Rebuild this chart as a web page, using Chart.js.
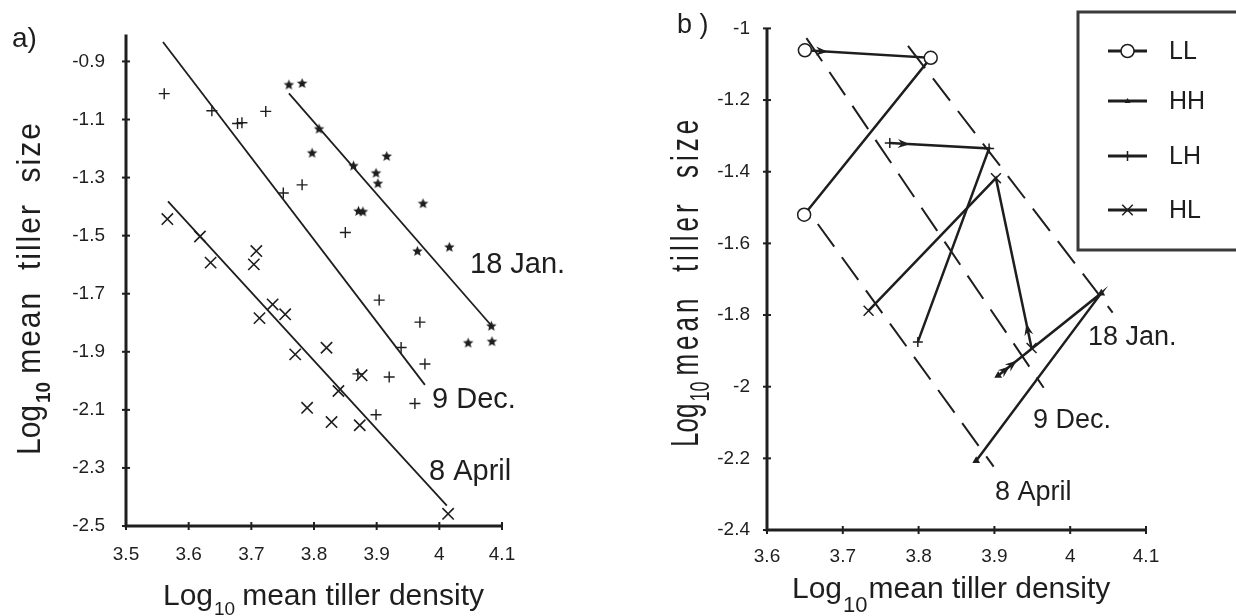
<!DOCTYPE html>
<html>
<head>
<meta charset="utf-8">
<script src="https://cdn.jsdelivr.net/npm/chart.js@4/dist/chart.umd.min.js"></script>
<style>
  body { margin: 0; background: #fff; }
  #wrap { position: relative; width: 1236px; height: 616px; overflow: hidden; }
  #chartA { position: absolute; left: 0; top: 0; }
  #chartB { position: absolute; left: 610px; top: 0; }
</style>
</head>
<body>
<div id="wrap">
  <canvas id="chartA" width="610" height="616"></canvas>
  <canvas id="chartB" width="626" height="616"></canvas>
</div>
<script>
var FONT = "'Liberation Sans', Arial, Helvetica, sans-serif";
var INK = '#1e1e1e';

// a) log10 tiller density / log10 mean tiller size, one pair of arrays per harvest
var janDensity = [3.760, 3.781, 3.808, 3.797, 3.863, 3.916, 3.899, 3.902, 3.871, 3.878, 3.974, 3.965, 4.016, 4.083, 4.046, 4.084];
var janSize    = [-0.981, -0.976, -1.133, -1.216, -1.260, -1.227, -1.285, -1.321, -1.416, -1.418, -1.390, -1.554, -1.540, -1.812, -1.870, -1.865];
var decDensity = [3.561, 3.637, 3.678, 3.685, 3.723, 3.751, 3.781, 3.850, 3.904, 3.969, 3.939, 3.977, 3.920, 3.870, 3.961, 3.899];
var decSize    = [-1.011, -1.070, -1.114, -1.111, -1.072, -1.353, -1.325, -1.489, -1.722, -1.798, -1.885, -1.942, -1.987, -1.976, -2.078, -2.117];
var aprDensity = [3.566, 3.618, 3.635, 3.708, 3.704, 3.734, 3.713, 3.754, 3.770, 3.820, 3.876, 3.839, 3.789, 3.828, 3.873, 4.014];
var aprSize    = [-1.443, -1.503, -1.593, -1.553, -1.599, -1.737, -1.784, -1.771, -1.909, -1.886, -1.981, -2.035, -2.093, -2.142, -2.153, -2.458];

// fitted thinning lines (end points)
var janFitX = [3.760, 4.084], janFitY = [-1.010, -1.812];
var decFitX = [3.559, 3.977], decFitY = [-0.833, -2.014];
var aprFitX = [3.567, 4.012], aprFitY = [-1.382, -2.430];

// b) treatment means at 9 Dec., 18 Jan., 8 April
var llDensity = [3.650, 3.816, 3.649], llSize = [-1.061, -1.082, -1.520];
var hhDensity = [3.905, 4.041, 3.876], hhSize = [-1.969, -1.739, -2.207];
var lhDensity = [3.762, 3.893, 3.799], lhSize = [-1.320, -1.335, -1.875];
var hlDensity = [3.949, 3.902, 3.734], hlSize = [-1.892, -1.418, -1.788];

// dashed lines for each harvest in b)
var janLineX = [3.786, 4.056], janLineY = [-1.049, -1.793];
var decLineX = [3.652, 3.965], decLineY = [-1.027, -2.003];
var aprLineX = [3.667, 3.899], aprLineY = [-1.546, -2.223];

var aDensityTicks = [3.5, 3.6, 3.7, 3.8, 3.9, 4, 4.1];
var aSizeTicks = [-0.9, -1.1, -1.3, -1.5, -1.7, -1.9, -2.1, -2.3, -2.5];
var bDensityTicks = [3.6, 3.7, 3.8, 3.9, 4, 4.1];
var bSizeTicks = [-1, -1.2, -1.4, -1.6, -1.8, -2, -2.2, -2.4];

function pairs(xs, ys) {
  return xs.map(function (x, i) { return { x: x, y: ys[i] }; });
}

// filled five point star used for the 18 Jan. points
function makeStar(r) {
  var c = document.createElement('canvas');
  c.width = c.height = 2 * r + 2;
  var g = c.getContext('2d');
  g.fillStyle = INK;
  g.beginPath();
  for (var k = 0; k < 10; k++) {
    var ang = -Math.PI / 2 + k * Math.PI / 5;
    var rr = k % 2 ? r * 0.45 : r;
    g.lineTo(r + 1 + rr * Math.cos(ang), r + 1 + rr * Math.sin(ang));
  }
  g.closePath();
  g.fill();
  return c;
}

// axis lines with ticks crossing them
var axesPlugin = {
  id: 'axes',
  beforeDatasetsDraw: function (chart) {
    var ctx = chart.ctx, a = chart.chartArea;
    var xs = chart.scales.x, ys = chart.scales.y;
    var o = chart.options.plugins.axes;
    ctx.save();
    ctx.strokeStyle = INK;
    ctx.lineWidth = 3;
    ctx.beginPath();
    ctx.moveTo(a.left, a.top + o.topGap);
    ctx.lineTo(a.left, a.bottom);
    ctx.lineTo(a.right, a.bottom);
    ctx.stroke();
    ctx.lineWidth = 2;
    xs.ticks.forEach(function (t) {
      var px = xs.getPixelForValue(t.value);
      ctx.beginPath(); ctx.moveTo(px, a.bottom - 4); ctx.lineTo(px, a.bottom + 4); ctx.stroke();
    });
    ys.ticks.forEach(function (t) {
      var py = ys.getPixelForValue(t.value);
      ctx.beginPath(); ctx.moveTo(a.left - 4, py); ctx.lineTo(a.left + 4, py); ctx.stroke();
    });
    ctx.restore();
  }
};

// free text: titles with subscripts, harvest dates, panel letters
var textPlugin = {
  id: 'texts',
  afterDraw: function (chart) {
    var ctx = chart.ctx;
    chart.options.plugins.texts.items.forEach(function (it) {
      ctx.save();
      ctx.fillStyle = INK;
      ctx.textBaseline = 'alphabetic';
      ctx.translate(it.x, it.y);
      if (it.rotate) ctx.rotate(-Math.PI / 2);
      if (it.stretch) ctx.scale(1, it.stretch);
      var x = 0;
      it.parts.forEach(function (p) {
        ctx.font = (p.bold ? 'bold ' : '') + p.size + 'px ' + FONT;
        ctx.letterSpacing = (p.spacing || 0) + 'px';
        x += p.dx || 0;
        ctx.fillText(p.text, x, p.dy || 0);
        x += ctx.measureText(p.text).width;
      });
      ctx.restore();
    });
  }
};

// arrow heads on the first step of each treatment path
var arrowPlugin = {
  id: 'arrows',
  afterDatasetsDraw: function (chart) {
    var ctx = chart.ctx;
    ctx.save();
    ctx.fillStyle = INK;
    chart.data.datasets.forEach(function (ds, i) {
      if (!ds.arrows) return;
      var pts = chart.getDatasetMeta(i).data;
      var a = pts[0], b = pts[1];
      var dx = b.x - a.x, dy = b.y - a.y, len = Math.hypot(dx, dy);
      var ux = dx / len, uy = dy / len;
      ds.arrows.forEach(function (d) {
        var tx = a.x + ux * d, ty = a.y + uy * d;
        ctx.beginPath();
        ctx.moveTo(tx, ty);
        ctx.lineTo(tx - ux * 12 - uy * 4.5, ty - uy * 12 + ux * 4.5);
        ctx.lineTo(tx - ux * 8, ty - uy * 8);
        ctx.lineTo(tx - ux * 12 + uy * 4.5, ty - uy * 12 - ux * 4.5);
        ctx.closePath();
        ctx.fill();
      });
    });
    ctx.restore();
  }
};

function drawMarker(ctx, ds, x, y) {
  var r = ds.pointRadius;
  ctx.lineWidth = ds.pointBorderWidth;
  ctx.beginPath();
  if (ds.pointStyle === 'circle') {
    ctx.arc(x, y, r, 0, Math.PI * 2);
    ctx.fillStyle = '#fff'; ctx.fill(); ctx.stroke();
  } else if (ds.pointStyle === 'triangle') {
    ctx.moveTo(x, y - r); ctx.lineTo(x + r, y + r * 0.7); ctx.lineTo(x - r, y + r * 0.7);
    ctx.closePath(); ctx.fillStyle = INK; ctx.fill();
  } else if (ds.pointStyle === 'cross') {
    ctx.moveTo(x, y - r); ctx.lineTo(x, y + r); ctx.moveTo(x - r, y); ctx.lineTo(x + r, y); ctx.stroke();
  } else if (ds.pointStyle === 'crossRot') {
    var q = r * 0.75;
    ctx.moveTo(x - q, y - q); ctx.lineTo(x + q, y + q); ctx.moveTo(x + q, y - q); ctx.lineTo(x - q, y + q); ctx.stroke();
  }
}

var legendPlugin = {
  id: 'boxLegend',
  afterDraw: function (chart) {
    var o = chart.options.plugins.boxLegend;
    var ctx = chart.ctx;
    ctx.save();
    ctx.strokeStyle = '#3a3a3a';
    ctx.lineWidth = 3;
    ctx.strokeRect(o.x, o.y, o.w, o.h);
    ctx.font = o.size + 'px ' + FONT;
    ctx.textBaseline = 'middle';
    o.order.forEach(function (label, k) {
      var ds = chart.data.datasets.find(function (d) { return d.label === label; });
      var y = o.rows[k];
      ctx.strokeStyle = INK;
      ctx.lineWidth = 3;
      ctx.beginPath(); ctx.moveTo(o.lineX[0], y); ctx.lineTo(o.lineX[1], y); ctx.stroke();
      ctx.strokeStyle = INK;
      drawMarker(ctx, ds, (o.lineX[0] + o.lineX[1]) / 2, y);
      ctx.fillStyle = INK;
      ctx.fillText(label, o.textX, y + 1);
    });
    ctx.restore();
  }
};

function fixedTicks(list) {
  return function (axis) { axis.ticks = list.map(function (v) { return { value: v }; }); };
}

function axis(min, max, ticks, size, pad) {
  return {
    type: 'linear', min: min, max: max,
    afterBuildTicks: fixedTicks(ticks),
    afterFit: size,
    grid: { display: false, drawTicks: false },
    border: { display: false },
    ticks: {
      color: INK, padding: pad,
      font: { family: FONT, size: 19 },
      callback: function (v) { return String(v); }
    }
  };
}

function fitLine(xs, ys, dash) {
  return {
    data: pairs(xs, ys), showLine: true, pointRadius: 0,
    borderColor: INK, borderWidth: dash ? 2 : 1.8, borderDash: dash || [], clip: false
  };
}

var starImg = makeStar(5.5);

new Chart(document.getElementById('chartA'), {
  type: 'scatter',
  data: {
    datasets: [
      fitLine(janFitX, janFitY),
      fitLine(decFitX, decFitY),
      fitLine(aprFitX, aprFitY),
      { label: '18 Jan.', data: pairs(janDensity, janSize), pointStyle: starImg, pointRadius: 5, clip: false },
      { label: '9 Dec.', data: pairs(decDensity, decSize), pointStyle: 'cross', pointRadius: 5.5,
        pointBorderWidth: 1.4, borderColor: INK, backgroundColor: INK, clip: false },
      { label: '8 April', data: pairs(aprDensity, aprSize), pointStyle: 'crossRot', pointRadius: 8,
        pointBorderWidth: 1.6, borderColor: INK, backgroundColor: INK, clip: false }
    ]
  },
  options: {
    animation: false, responsive: false, maintainAspectRatio: false,
    layout: { padding: { left: 0, right: 108, top: 15, bottom: 0 } },
    scales: {
      x: axis(3.5, 4.1, aDensityTicks, function (s) { s.height = 90; }, 17),
      y: axis(-2.5, -0.8, aSizeTicks, function (s) { s.width = 126; }, 21)
    },
    plugins: {
      legend: { display: false },
      tooltip: { enabled: false },
      axes: { topGap: 2 },
      texts: {
        items: [
          { x: 12, y: 47, parts: [{ text: 'a)', size: 28 }] },
          { x: 470, y: 273, parts: [{ text: '18 Jan.', size: 29 }] },
          { x: 432, y: 408, parts: [{ text: '9 Dec.', size: 29 }] },
          { x: 429, y: 480, parts: [{ text: '8 April', size: 29 }] },
          { x: 163, y: 605, parts: [
            { text: 'Log', size: 30 },
            { text: '10', size: 19, dy: 10, dx: 1 },
            { text: 'mean tiller density', size: 30, dx: 7 }
          ] },
          { x: 40, y: 455, rotate: true, stretch: 1.1, parts: [
            { text: 'Log', size: 30 },
            { text: '10', size: 19, bold: true, dy: 9, dx: 2 },
            { text: 'mean  tiller  size', size: 30, dx: 8, spacing: 2 }
          ] }
        ]
      }
    }
  },
  plugins: [axesPlugin, textPlugin]
});

function path(label, xs, ys, style, radius, extra) {
  var ds = {
    label: label, data: pairs(xs, ys), showLine: true,
    borderColor: INK, borderWidth: 2.5, backgroundColor: INK,
    pointStyle: style, pointRadius: radius, pointBorderWidth: 1.5,
    pointBorderColor: INK, pointBackgroundColor: INK, clip: false
  };
  for (var k in extra) ds[k] = extra[k];
  return ds;
}

new Chart(document.getElementById('chartB'), {
  type: 'scatter',
  data: {
    datasets: [
      fitLine(janLineX, janLineY, [28, 13]),
      fitLine(decLineX, decLineY, [28, 13]),
      fitLine(aprLineX, aprLineY, [28, 13]),
      path('LL', llDensity, llSize, 'circle', 6.5, { pointBackgroundColor: '#fff', arrows: [23] }),
      path('HH', hhDensity, hhSize, 'triangle', 3, { arrows: [15, 24] }),
      path('LH', lhDensity, lhSize, 'cross', 5, { arrows: [20] }),
      path('HL', hlDensity, hlSize, 'crossRot', 7, { arrows: [25] })
    ]
  },
  options: {
    animation: false, responsive: false, maintainAspectRatio: false,
    layout: { padding: { left: 0, right: 90, top: 15, bottom: 0 } },
    scales: {
      x: axis(3.6, 4.1, bDensityTicks, function (s) { s.height = 86; }, 15),
      y: axis(-2.4, -1, bSizeTicks, function (s) { s.width = 157; }, 17)
    },
    plugins: {
      legend: { display: false },
      tooltip: { enabled: false },
      axes: { topGap: 0 },
      boxLegend: {
        x: 468, y: 12, w: 200, h: 238, size: 25,
        order: ['LL', 'HH', 'LH', 'HL'],
        rows: [51, 101, 156, 210], lineX: [498, 537], textX: 559
      },
      texts: {
        items: [
          { x: 67, y: 33, parts: [{ text: 'b )', size: 27 }] },
          { x: 478, y: 345, parts: [{ text: '18 Jan.', size: 27 }] },
          { x: 423, y: 428, parts: [{ text: '9 Dec.', size: 27 }] },
          { x: 385, y: 500, parts: [{ text: '8 April', size: 27 }] },
          { x: 182, y: 598, parts: [
            { text: 'Log', size: 30 },
            { text: '10', size: 22, dy: 14, dx: 1 },
            { text: 'mean tiller density', size: 30, dx: 1 }
          ] },
          { x: 88, y: 447, rotate: true, stretch: 1.5, parts: [
            { text: 'Log', size: 26 },
            { text: '10', size: 18, dy: 7, dx: 2 },
            { text: 'mean  tiller  size', size: 26, dx: 6, spacing: 4 }
          ] }
        ]
      }
    }
  },
  plugins: [axesPlugin, arrowPlugin, legendPlugin, textPlugin]
});
</script>
</body>
</html>
